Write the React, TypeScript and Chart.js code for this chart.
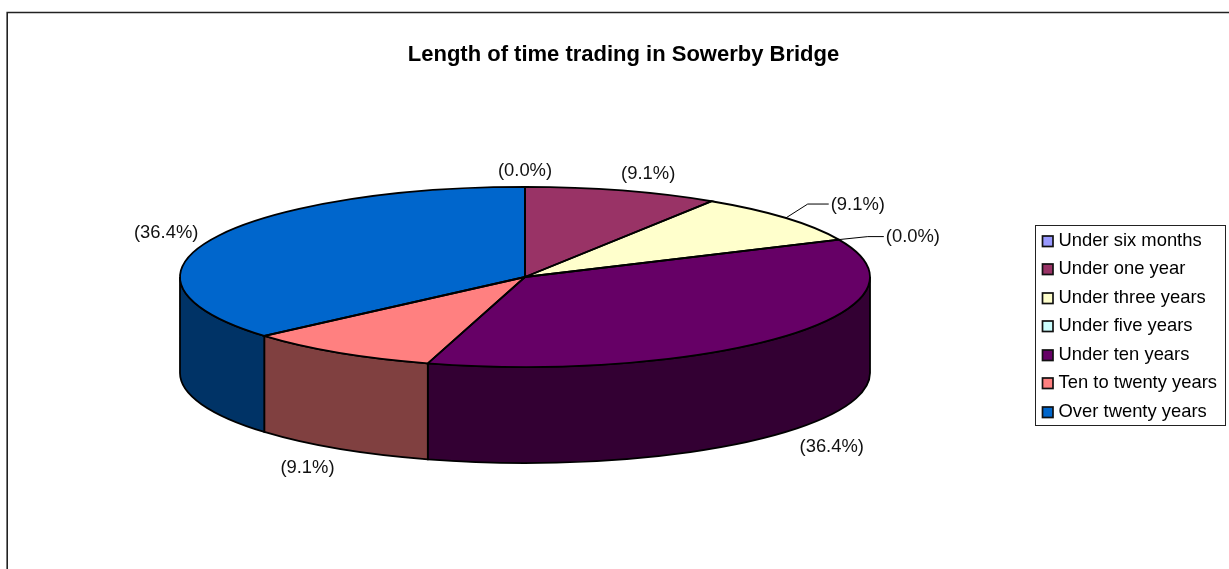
import React, { useEffect, useRef } from "react";
import { Chart, registerables } from "chart.js";

Chart.register(...registerables);

const titleText = "Length of time trading in Sowerby Bridge";
const categories = [
  "Under six months",
  "Under one year",
  "Under three years",
  "Under five years",
  "Under ten years",
  "Ten to twenty years",
  "Over twenty years",
];
const responses = [0, 1, 1, 0, 4, 1, 4];
const topColors = ["#9999ff", "#993366", "#ffffcc", "#ccffff", "#660066", "#ff8080", "#0066cc"];
const sideColors = ["#4c4c80", "#4c1933", "#808066", "#668080", "#330033", "#804040", "#003366"];

const FONT = '"Liberation Sans", Arial, sans-serif';
const pie = { cx: 525, cy: 277, radius: 345, ratio: 0.261, depth: 96 };
// label anchor = mid-angle point on the pie rim + offset; optional elbow for leader lines
const labelStyle = [
  { dx: 0, dy: -16, align: "center" },
  { dx: 26, dy: -17, align: "center" },
  { dx: 45, dy: -13, align: "left", elbow: [22, -14], end: [43, -14] },
  { dx: 47, dy: -3, align: "left", elbow: [29, -3], end: [45, -3] },
  { dx: 46, dy: 111, align: "center" },
  { dx: -31, dy: 115, align: "center" },
  { dx: -45, dy: -7, align: "center" },
] as any[];

const pie3d = {
  id: "pie3d",
  beforeDraw(chart: any) {
    const { ctx } = chart;
    ctx.save();
    ctx.strokeStyle = "#222";
    ctx.lineWidth = 1.6;
    ctx.beginPath();
    ctx.moveTo(7.2, 569);
    ctx.lineTo(7.2, 12.5);
    ctx.lineTo(1229, 12.5);
    ctx.stroke();
    ctx.restore();
  },
  beforeDatasetsDraw(chart: any) {
    const { ctx } = chart;
    const arcs = chart.getDatasetMeta(0).data;
    const { cx, cy, ratio, depth } = pie;
    ctx.save();
    ctx.strokeStyle = "#000";
    ctx.lineWidth = 1.8;
    arcs.forEach((arc: any, i: number) => {
      const s = Math.max(arc.startAngle, 0);
      const e = Math.min(arc.endAngle, Math.PI);
      if (e <= s) return;
      const rx = arc.outerRadius;
      const ry = rx * ratio;
      ctx.beginPath();
      ctx.ellipse(cx, cy, rx, ry, 0, s, e);
      ctx.ellipse(cx, cy + depth, rx, ry, 0, e, s, true);
      ctx.closePath();
      ctx.fillStyle = sideColors[i];
      ctx.fill();
      ctx.stroke();
    });
    ctx.restore();
    const a0 = arcs[0];
    ctx.save();
    ctx.translate(cx, cy);
    ctx.scale(1, ratio);
    ctx.translate(-a0.x, -a0.y);
  },
  afterDatasetsDraw(chart: any) {
    const { ctx } = chart;
    ctx.restore();
    const arcs = chart.getDatasetMeta(0).data;
    const values = chart.data.datasets[0].data as number[];
    const total = values.reduce((a, b) => a + b, 0);
    const { cx, cy, ratio } = pie;
    ctx.save();
    ctx.strokeStyle = "#000";
    ctx.lineWidth = 1.8;
    arcs.forEach((arc: any) => {
      if (arc.endAngle <= arc.startAngle) return;
      const rx = arc.outerRadius;
      ctx.beginPath();
      ctx.moveTo(cx, cy);
      ctx.ellipse(cx, cy, rx, rx * ratio, 0, arc.startAngle, arc.endAngle);
      ctx.closePath();
      ctx.stroke();
    });
    ctx.font = `18.4px ${FONT}`;
    ctx.fillStyle = "#111";
    ctx.textBaseline = "middle";
    arcs.forEach((arc: any, i: number) => {
      const rx = arc.outerRadius;
      const mid = (arc.startAngle + arc.endAngle) / 2;
      const px = cx + rx * Math.cos(mid);
      const py = cy + rx * ratio * Math.sin(mid);
      const st = labelStyle[i];
      if (st.elbow) {
        ctx.lineWidth = 1;
        ctx.beginPath();
        ctx.moveTo(px, py);
        ctx.lineTo(px + st.elbow[0], py + st.elbow[1]);
        ctx.lineTo(px + st.end[0], py + st.end[1]);
        ctx.stroke();
      }
      ctx.textAlign = st.align;
      ctx.fillText(`(${((values[i] / total) * 100).toFixed(1)}%)`, px + st.dx, py + st.dy);
    });
    ctx.restore();
  },
  afterDraw(chart: any) {
    const { ctx, legend } = chart;
    const boxes = legend.legendHitBoxes;
    const rowMid = (b: any) => b.top + 9.2;
    const top = rowMid(boxes[0]) - 15.5;
    const bottom = rowMid(boxes[boxes.length - 1]) + 13.5;
    const boxLeft = Math.round(legend.left) + 2;
    ctx.save();
    ctx.strokeStyle = "#222";
    ctx.lineWidth = 1;
    ctx.strokeRect(boxLeft + 0.5, Math.round(top) + 0.5, 190, Math.round(bottom - top));
    ctx.strokeStyle = "#111";
    ctx.lineWidth = 1.7;
    boxes.forEach((b: any, i: number) => {
      const y = rowMid(b);
      ctx.fillStyle = topColors[i];
      ctx.fillRect(boxLeft + 7.5, Math.round(y) - 5, 10.5, 10.5);
      ctx.strokeRect(boxLeft + 7.5, Math.round(y) - 5, 10.5, 10.5);
    });
    ctx.restore();
  },
};

export default function App() {
  const ref = useRef<HTMLCanvasElement>(null);
  useEffect(() => {
    document.body.style.margin = "0";
    const chart = new Chart(ref.current as HTMLCanvasElement, {
      type: "pie",
      data: {
        labels: categories,
        datasets: [
          {
            data: responses,
            backgroundColor: topColors,
            borderWidth: 0,
            clip: false,
          } as any,
        ],
      },
      options: {
        responsive: false,
        animation: false,
        radius: pie.radius,
        layout: { padding: { left: 20, right: 2, top: 42, bottom: 1 } },
        plugins: {
          tooltip: { enabled: false },
          title: {
            display: true,
            text: titleText,
            color: "#000",
            font: { family: FONT, size: 22, weight: "bold" },
            padding: { top: 0, bottom: 20 },
          },
          legend: {
            position: "right",
            fullSize: false,
            labels: {
              color: "#111",
              font: { family: FONT, size: 18.4, lineHeight: 1.223 },
              boxWidth: 10,
              boxHeight: 10,
              padding: 6,
              generateLabels: (c: any) =>
                c.data.labels.map((t: string, i: number) => ({
                  text: [t],
                  fillStyle: "rgba(0,0,0,0)",
                  strokeStyle: "rgba(0,0,0,0)",
                  lineWidth: 0,
                  index: i,
                  hidden: false,
                })),
            },
          },
        },
      } as any,
      plugins: [pie3d],
    });
    return () => chart.destroy();
  }, []);
  return <canvas ref={ref} width={1229} height={569} style={{ display: "block" }} />;
}
